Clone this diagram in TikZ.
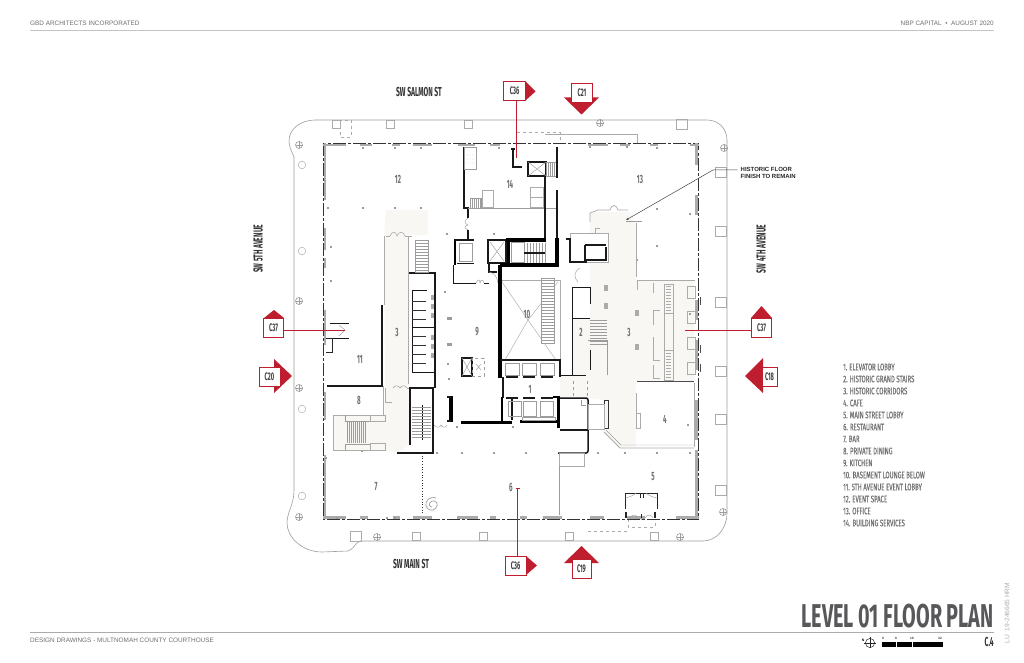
\documentclass[tikz,border=0pt]{standalone}
\usepackage{fontspec}
\usepackage{xcolor}
\usetikzlibrary{arrows.meta,positioning}
\setmainfont{Liberation Sans}
\newfontfamily\narrowfont[FakeStretch=0.52]{Fira Sans}
\newfontfamily\titlefont[FakeStretch=0.6]{Fira Sans}
\newfontfamily\legendfont[FakeStretch=0.63,FakeBold=0.25]{Fira Sans}
\definecolor{secred}{HTML}{BE1E2D}
\definecolor{floorbeige}{HTML}{F9F7F4}
\definecolor{txtgray}{HTML}{6E6E70}
\definecolor{titlegray}{HTML}{58585B}
\definecolor{wallgray}{HTML}{ABABAB}
\definecolor{linegray}{HTML}{9C9C9C}
\tikzset{
  hvywall/.style={black,line width=3.2pt},
  midwall/.style={black!90,line width=1.5pt},
  thinwall/.style={wallgray,line width=1pt},
  hairline/.style={linegray,line width=0.45pt},
  roomno/.style={font=\narrowfont\bfseries\fontsize{12}{12}\selectfont,text=txtgray,inner sep=0pt},
  streetname/.style={font=\narrowfont\bfseries\fontsize{13}{13}\selectfont,text=black!80,inner sep=0pt},
  secbox/.style={draw=secred,fill=white,line width=0.8pt,font=\narrowfont\bfseries\fontsize{11}{11}\selectfont,text=black!75,inner sep=0pt,minimum width=20.5pt,minimum height=19pt},
  secline/.style={secred,line width=0.7pt},
  plainnote/.style={font=\fontsize{6.4}{7}\selectfont,text=txtgray,inner sep=0pt},
  treemark/.style={draw=linegray,line width=0.6pt},
}
\begin{document}
\begin{tikzpicture}[x=1pt,y=-1pt]
  \useasboundingbox (0,0) rectangle (1024,663);

  % Header and footer
  \node[plainnote,anchor=west] (headleft) at (30,23) {GBD ARCHITECTS INCORPORATED};
  \node[plainnote,anchor=east] (headright) at (994,23) {NBP CAPITAL \ \textbullet\ \ AUGUST 2020};
  \draw[wallgray!70,line width=0.4pt] (30,30) -- (994,30);
  \draw[wallgray,line width=0.7pt] (30,632) -- (994,632);
  \node[plainnote,anchor=west] (footleft) at (30,640.5) {DESIGN DRAWINGS - MULTNOMAH COUNTY COURTHOUSE};
  \node[anchor=east,inner sep=0pt,text=titlegray] (plantitle) at (994,616.5)
    {\titlefont\bfseries\fontsize{33}{33}\selectfont LEVEL 01 FLOOR PLAN};
  \node[anchor=east,inner sep=0pt,text=black!80] (sheetno) at (994,641.5)
    {\narrowfont\bfseries\fontsize{13}{13}\selectfont C.4};
  \node[rotate=90,inner sep=0pt,text=wallgray] (filenote) at (1007,613)
    {\fontsize{6.6}{7}\selectfont LU \ 19-246665 HRM};

  % Floor finish
  \fill[floorbeige] (386,210) -- (428,210) -- (428,235) -- (409,235) -- (409,388) -- (410,388)
    -- (410,445) -- (397,453) -- (385,450) -- (333,450) -- (333,415) -- (385,415) -- (385,388) -- (384,235) -- cycle;
  \fill[floorbeige] (590,212) -- (630,212) -- (636,225) -- (636,280) -- (694,280) -- (694,381) -- (636,381)
    -- (636,447) -- (620,447) -- (604,432) -- (604,400) -- (588,398) -- (560,398) -- (560,376) -- (572,376)
    -- (572,318) -- (590,318) -- (590,262) -- (608,262) -- (608,233) -- (590,233) -- cycle;

  % Street curb
  \draw[linegray,line width=0.6pt] (294,157) .. controls (291,150) and (289,146) .. (289,141)
    .. controls (289,128) and (302,120) .. (315,120) -- (707,120)
    .. controls (719,120) and (727,129) .. (727,140) -- (727,513)
    .. controls (727,529) and (716,541) .. (703,541) -- (360,541)
    .. controls (355,543) and (353,550) .. (348,551) -- (322,552)
    .. controls (302,552) and (287,537) .. (287,523)
    .. controls (287,512) and (294,505) .. (294,490) -- cycle;

  % Street planters
  \foreach \px/\py in {336/124,390/124,468/124,569/536,654/536,416/536,483/536}
    \draw[wallgray,line width=0.45pt] (\px-4,\py-4) rectangle (\px+4,\py+4);
  \foreach \px/\py in {682/124,721/172,721/231,721/302,721/371,721/419,721/490,356/536}
    \draw[wallgray,line width=0.45pt] (\px-5.5,\py-5) rectangle (\px+5.5,\py+5);
  \draw[wallgray,line width=0.45pt,dashed] (340,120) rectangle (351,137);
  \draw[wallgray,line width=0.45pt,dashed] (517,132) -- (560,132) -- (560,143);
  \draw[wallgray,line width=0.45pt] (545,134) -- (637,134) -- (637,143);
  \draw[wallgray,line width=0.45pt,dashed] (588,531) -- (627,531);
  \draw[wallgray,line width=0.45pt,dashed] (628,519) rectangle (655,527);

  % Street lights and trees
  \foreach \tx/\ty in {299/145,299/301,299/388,299/517,377/537,680/537,723/512,724/148,600/123}{
    \draw[treemark] (\tx,\ty) circle (3.5pt);
    \draw[treemark,line width=0.4pt] (\tx-3.5,\ty) -- (\tx+3.5,\ty) (\tx,\ty-3.5) -- (\tx,\ty+3.5);
  }
  \foreach \tx/\ty in {302/165,302/251,302/409,302/496}
    \draw[wallgray,line width=0.45pt] (\tx,\ty) circle (3.8pt);

  % Outer wall
  \draw[black!80,line width=0.9pt,dash pattern=on 13pt off 2pt on 3pt off 2pt] (323,143) rectangle (698.5,519);
  \foreach \ax/\bx in {323/346,360/372,392/400,413/432,458/475,490/500,588/608,620/630,650/658,690/699}
    \draw[wallgray,line width=2.4pt] (\ax,145) -- (\bx,145);
  \foreach \ax/\bx in {323/346,360/368,393/400,413/432,457/478,490/496,520/527,543/562,590/604,627/645,676/699}
    \draw[wallgray,line width=2.4pt] (\ax,517.5) -- (\bx,517.5);
  \foreach \ay/\by in {143/200,228/250,258/268,310/345,392/420,455/519}
    \draw[wallgray,line width=2.6pt] (325,\ay) -- (325,\by);
  \foreach \ay/\by in {143/165,195/215,300/320,340/370,400/440,450/519}
    \draw[wallgray,line width=2.6pt] (696.5,\ay) -- (696.5,\by);

  % Columns
  \foreach \cx/\cy in {363/148,395/148,421/148,363/208,395/208,421/208,328/208,331/247,331/281,499/148,
      447/234,494/234,445/292,448/364,449/379,457/427,494/453,513/427,526/453,
      598/453,625/453,657/453,690/453,690/214,657/209,627/147,657/148,590/147,690/314,657/246,
      437/453,462/453,326/458,362/451,337/518,387/518,395/518,688/425,637/260}
    \fill[linegray] (\cx-1.3,\cy-1.3) rectangle (\cx+1.3,\cy+1.3);
  \foreach \kx/\ky in {449/318,449/344}
    \fill[linegray] (\kx-2.5,\ky-1.5) rectangle (\kx+2.5,\ky+1.5);
  \foreach \fx/\fy in {606/288,606/306,637/313,637/347}
    \fill[wallgray] (\fx-2,\fy-3) rectangle (\fx+2,\fy+3);

  % Left corridor
  \draw[thinwall] (386,236) -- (390,236) (405,236) -- (412,236);
  \draw[hairline] (390,236) .. controls (392,231) and (396,231) .. (397,236) .. controls (399,231) and (403,231) .. (405,236);
  \draw[thinwall] (384,236) -- (384,305);
  \draw[thinwall] (408,236) -- (408,384);
  \draw[thinwall] (383,386) -- (383,415) -- (333,415);
  \draw[midwall] (382,305) -- (382,386) -- (327,386);

  % Left entry
  \draw[midwall,line width=1pt] (330,323) -- (349,323) (330,338) -- (349,338);
  \draw[black!85,line width=0.8pt] (326,338) -- (332,338) -- (332,352) -- (326,352);
  \draw[hairline] (339,325) -- (345,330) -- (339,336);

  % Private dining stair
  \draw[thinwall] (333,450) -- (385,450);
  \draw[thinwall] (333,415) -- (333,450);
  \draw[thinwall] (370,415) rectangle (385,421);
  \draw[thinwall] (370,443) rectangle (385,450);
  \draw[hairline] (345,415) -- (345,421) -- (370,421) (345,450) -- (345,444) -- (370,444);
  \foreach \sx in {347,349,...,365}
    \draw[hairline] (\sx,421) -- (\sx,443);
  \draw[thinwall] (385,388) -- (385,402) -- (392,402);
  \draw[hairline] (393,388) .. controls (395,385) and (398,385) .. (400,388) .. controls (402,385) and (405,385) .. (407,388);
  \draw[thinwall] (407,388) -- (410,388);

  % Lower left stair
  \draw[midwall] (397,453) -- (433,453) -- (433,388) -- (410,388) -- (410,445);
  \draw[midwall,line width=1pt] (422,405) -- (422,440);
  \foreach \sy in {407,410,...,437}
    \draw[hairline] (412,\sy) -- (431,\sy);
  \draw[black!80,dotted,line width=0.7pt] (422,453) -- (422,515);
  \draw[hairline,line width=0.7pt] (436,498) .. controls (429,496) and (425,501) .. (426,506)
    .. controls (427,510) and (433,512) .. (436,508) .. controls (439,504) and (436,500) .. (432,501)
    .. controls (428,503) and (429,507) .. (432,507);

  % Restrooms
  \draw[midwall] (409,273) -- (435,273) -- (435,388);
  \draw[midwall,line width=1pt] (412,291) -- (412,372) -- (435,372);
  \draw[midwall,line width=1pt] (412,290) -- (427,290);
  \draw[midwall,line width=1pt] (412,327) -- (435,327);
  \foreach \ry in {301,310,319,336,345,354,363}
    \draw[black!80,line width=0.6pt] (412,\ry) -- (426,\ry);
  \foreach \ry in {295,304,313,335,344,353}
    \fill[wallgray] (431,\ry) rectangle (434,\ry+5);
  \draw[hairline] (415,240) rectangle (428,272);
  \foreach \sy in {243,246,...,270}
    \draw[hairline] (415,\sy) -- (428,\sy);

  % Core north
  \draw[midwall] (464,147) -- (464,208) -- (468,208) -- (468,218);
  \draw[midwall] (468,230) -- (468,240);
  \draw[hairline,line width=0.8pt] (464,147) rectangle (476,169);
  \foreach \hx in {467,470,473}
    \foreach \hy in {155,159,163}
      \fill[linegray] (\hx,\hy) circle (0.4pt);
  \draw[hairline,line width=0.7pt] (468,208) -- (556,208);
  \draw[hairline] (470,198) rectangle (481,208);
  \foreach \sx in {472,474,...,480}
    \draw[hairline] (\sx,198) -- (\sx,208);
  \draw[wallgray,line width=0.45pt] (482,190) rectangle (493,207);
  \draw[wallgray,line width=0.45pt] (530,187) rectangle (543,207);
  \draw[wallgray,line width=0.45pt] (530,197) -- (543,197);
  \draw[hairline] (468,218) .. controls (464,221) and (464,223) .. (468,225) .. controls (464,226) and (464,228) .. (468,230);
  \draw[midwall] (513,148) -- (513,167) -- (522,167);
  \draw[midwall] (511,149) -- (515,149);
  \draw[midwall,line width=1.3pt] (528,162) rectangle (546,176);
  \draw[hairline] (528,162) -- (546,176) (528,176) -- (546,162);
  \draw[hairline] (546,162) rectangle (556,176);
  \foreach \sx in {548,550,552,554}
    \draw[hairline] (\sx,162) -- (\sx,176);
  \draw[midwall] (557,147) -- (557,178);
  \draw[midwall] (557,190) -- (557,238);
  \draw[midwall] (545,176) -- (545,240);

  % Core shaft
  \draw[hvywall,line width=2.6pt] (455,239) -- (455,265);
  \draw[midwall] (455,240) -- (474,240);
  \draw[hairline,line width=0.8pt] (459,243) rectangle (472,261);
  \draw[midwall,line width=1pt] (457,263) -- (474,263);
  \draw[midwall,line width=1pt] (453,265) -- (453,283) -- (476,283) (484,283) -- (489,283);
  \draw[hairline] (476,283) .. controls (478,279) and (480,279) .. (480,283) .. controls (481,279) and (483,279) .. (484,283);
  \draw[midwall] (488,240) rectangle (506,263);
  \draw[hairline] (490,242) -- (504,261) (490,261) -- (504,242);
  \draw[hvywall] (508.5,240) -- (508.5,263);
  \draw[hvywall,line width=1.8pt] (506,264) -- (524,264);
  \draw[hvywall] (506,240) -- (546,240);
  \draw[hairline] (511,242) rectangle (524,262);
  \foreach \sx in {527,530,...,545}
    \draw[hairline] (\sx,243) -- (\sx,263);
  \draw[midwall,line width=1.6pt] (524,253) -- (545,253);
  \draw[hvywall] (557,238) -- (557,266);
  \draw[hvywall] (500,265) -- (559,265);
  \draw[midwall,line width=1.2pt] (489,263) -- (489,272) -- (497,272);
  \draw[hairline] (489,272) .. controls (494,273) and (497,276) .. (498,283);

  % Central thick walls
  \draw[hvywall,line width=3.6pt] (500,265) -- (500,378);
  \draw[hvywall,line width=3pt] (461,422) -- (512,422);
  \draw[hvywall] (451,396) -- (451,422);
  \draw[midwall] (447,397) -- (451,397) (447,421) -- (451,421);
  \draw[hairline] (434,425) .. controls (436,428) and (440,428) .. (441,425) .. controls (443,428) and (446,428) .. (447,425);

  % Kitchen hoist
  \draw[midwall,line width=1.2pt] (462,358) rectangle (472,376);
  \draw[hairline] (462,358) -- (472,376) (462,376) -- (472,358);
  \draw[hairline,dashed] (472,358) rectangle (484,376);
  \draw[hairline] (476,364) -- (481,370) (476,370) -- (481,364);

  % Basement opening
  \draw[wallgray,line width=0.45pt] (502,280) -- (560,280) -- (560,361);
  \draw[wallgray,line width=0.45pt] (502,282) -- (528,320) -- (505,360);
  \draw[wallgray,line width=0.45pt] (558,282) -- (528,320) -- (556,360);
  \draw[hairline,fill=white] (541,278) rectangle (554,343);
  \foreach \sy in {280,283,...,340}
    \draw[hairline] (541,\sy) -- (554,\sy);

  % Elevators
  \draw[midwall,line width=1.3pt] (500,360) -- (560,360) -- (560,377);
  \foreach \ex in {505,522,540}{
    \draw[hairline,line width=0.8pt] (\ex,363) rectangle (\ex+14,375);
    \draw[midwall,line width=1.2pt] (\ex+1,377) -- (\ex+13,377);
    \draw[midwall,line width=1.2pt] (\ex+1,398) -- (\ex+13,398);
  }
  \draw[midwall] (503,377) -- (503,398);
  \draw[hvywall,line width=2.6pt] (502,397) -- (502,424);
  \draw[midwall] (512,398) -- (512,420);
  \foreach \ex in {508,523,540}
    \draw[hairline,line width=0.8pt] (\ex,401) rectangle (\ex+13,416);
  \draw[hvywall,line width=2.2pt] (520,421.5) -- (560,421.5);
  \draw[hairline] (522,417) rectangle (555,420);
  \draw[hvywall,line width=3pt] (558,397) -- (558,428);
  \draw[black,line width=1.2pt] (553,397) -- (560,397);
  \draw[midwall,line width=1.5pt,rounded corners=2pt] (560,398) -- (588,398) -- (588,453) -- (558,453);
  \draw[midwall] (560,430) -- (588,430);
  \draw[hairline] (581,400) -- (581,405) -- (586,405);
  \draw[midwall,line width=0.9pt] (560,375) -- (586,375);
  \draw[hairline,dashed,line width=1pt] (573,381) -- (573,396) (587,381) -- (587,396);
  \draw[wallgray,line width=0.45pt] (559,453) rectangle (584,466);
  \draw[hairline,line width=0.7pt] (559,466) -- (559,515);

  % Cafe room and lobby
  \draw[thinwall] (570,233) rectangle (608,262);
  \draw[midwall,line width=1.1pt] (566,239) -- (570,239) -- (570,262) -- (587,262);
  \draw[midwall,line width=1.1pt] (585,245) -- (585,260) -- (606,260) -- (606,247);
  \draw[midwall,line width=1.1pt] (585,245) -- (606,245);
  \draw[wallgray,line width=0.9pt] (595,233) -- (595,228) -- (600,228);
  \draw[thinwall,line width=0.7pt] (590,222) -- (590,213) -- (598,210) -- (610,210);
  \draw[thinwall,line width=0.7pt] (610,210) .. controls (612,204) and (616,204) .. (618,210) -- (628,210);
  \draw[thinwall] (636,223) -- (636,277);
  \draw[hairline] (626,221) -- (642,221);
  \draw[midwall,line width=1pt] (572,287) -- (590,287) -- (590,304);
  \draw[midwall,line width=1pt] (572,287) -- (572,375);
  \draw[midwall,line width=1pt] (572,318) -- (590,318);
  \draw[midwall,line width=1pt] (590,350) -- (590,370);
  \foreach \sy in {320,323,...,344}
    \draw[hairline] (590,\sy) -- (607,\sy);
  \draw[hairline] (588,340) -- (607,340) -- (607,375);
  \draw[hairline] (580,268) .. controls (573,272) and (574,278) .. (578,282);

  % Cafe
  \draw[thinwall] (637,280) -- (695,280);
  \draw[thinwall] (637,280) -- (637,290);
  \draw[black!70,line width=0.9pt] (637,381) -- (694,381);
  \draw[thinwall] (636,393) -- (636,428);
  \draw[thinwall] (636,413) rectangle (640,428);
  \draw[thinwall,line width=0.8pt] (694,383) -- (694,447);
  \draw[thinwall,line width=0.8pt] (604,432) -- (620,448) -- (694,448);
  \draw[hairline] (606,430) -- (621,445) -- (694,445);
  \draw[black!80,line width=1pt] (604,400) rectangle (608,428);
  \draw[wallgray,line width=0.45pt] (588,404) rectangle (604,429);

  % Banquettes
  \foreach \by/\bh in {283/10,310/15,337/23,365/13}
    \draw[thinwall,line width=0.8pt] (653,\by) -- (653,\by+\bh);
  \draw[thinwall,line width=0.7pt] (653,310) -- (660,310) (653,360) -- (660,360) (653,378) -- (660,378);
  \draw[wallgray,line width=0.45pt] (664,284) rectangle (673,380);
  \draw[wallgray,line width=0.45pt] (664,313) -- (673,313) (664,350) -- (673,350);
  \foreach \sy in {286,289,...,310}
    \draw[wallgray,line width=0.45pt] (666,\sy) -- (671,\sy);
  \foreach \sy in {353,356,...,377}
    \draw[wallgray,line width=0.45pt] (666,\sy) -- (671,\sy);
  \foreach \by in {286,311,337,362}
    \draw[thinwall,line width=0.7pt] (687,\by) rectangle (695,\by+12);
  \foreach \by in {297,345,364}
    \draw[black!70,line width=1pt] (700,\by) -- (700,\by+8);

  % Main street doors
  \draw[black!85,line width=0.9pt] (625,509) -- (625,493) -- (657,493) -- (657,509);
  \draw[hairline] (625,498) .. controls (630,497) and (634,495) .. (636,493)
    (657,498) .. controls (652,497) and (648,495) .. (646,493);
  \draw[black!85,line width=1pt] (640,493) -- (640,498) (643,493) -- (643,498);
  \draw[black!85,line width=1.4pt] (626,512) -- (626,518) (655,512) -- (655,518);
  \draw[black!85,line width=0.9pt] (641,514) -- (641,518);
  \draw[hairline] (630,518) .. controls (632,514) and (636,514) .. (638,518)
    (645,518) .. controls (647,514) and (651,514) .. (653,518);

  % Room numbers
  \foreach \rn/\rx/\ry/\rt in {ra/398/179/12,rb/640/179/13,rc/510/184/14,rd/527/314/10,re/477/332/9,rf/397/332/3,rg/581/332/2,rh/629/332/3,ri/360/359/11,rj/530/389/1,rk/359/400/8,rl/376/487/7,rm/511/487/6,rn/653/477/5,ro/665/419/4}
    \node[roomno] (\rn) at (\rx,\ry) {\rt};

  % Streets
  \node[streetname] (salmon) at (419,92) {SW SALMON ST};
  \node[streetname] (mainst) at (411,564) {SW MAIN ST};
  \node[streetname,rotate=90] (fifth) at (258,249) {SW 5TH AVENUE};
  \node[streetname,rotate=90] (fourth) at (761,249) {SW 4TH AVENUE};

  % Historic floor note
  \node[anchor=west,align=left,inner sep=0pt,font=\bfseries\fontsize{6}{7}\selectfont,text=black!85] (floornote) at (740.5,172.5) {HISTORIC FLOOR\\FINISH TO REMAIN};
  \coordinate (noteelbow) at (713,170);
  \coordinate (notetip) at (626,220);
  \draw[black!75,line width=0.5pt,shorten <=3pt,-{Stealth[length=3pt,width=2pt]}] (floornote.west |- noteelbow) -- (noteelbow) -- (notetip);

  % Section markers
  \fill[secred] (526,82) -- (535.5,91.5) -- (526,100) -- cycle;
  \node[secbox,minimum width=22pt] (cnorth) at (514.5,91) {C36};
  \coordinate (cnorthend) at (516,158);
  \draw[secline] (cnorth.south -| cnorthend) -- (cnorthend);

  \fill[secred] (564,97.5) -- (599,97.5) -- (581.5,114.5) -- cycle;
  \node[secbox] (ctop) at (582,93) {C21};

  \fill[secred] (264,318) -- (274,310) -- (284,318) -- cycle;
  \node[secbox] (cwest) at (273.5,328) {C37};
  \coordinate (cwestend) at (345,330);
  \draw[secline] (cwest.east |- cwestend) -- (cwestend);

  \fill[secred] (274,359) -- (292,376) -- (274,393) -- cycle;
  \node[secbox,minimum width=21pt] (cleft) at (269.5,376.5) {C20};

  \fill[secred] (751,318) -- (761.5,306) -- (772,318) -- cycle;
  \node[secbox] (ceast) at (761.5,327.5) {C37};
  \coordinate (ceastend) at (685,330);
  \draw[secline] (ceast.west |- ceastend) -- (ceastend);

  \fill[secred] (763,358) -- (745,376) -- (763,393) -- cycle;
  \node[secbox,minimum width=15pt] (cright) at (769.5,376.5) {C18};

  \fill[secred] (526,556) -- (537,565.5) -- (526,575) -- cycle;
  \node[secbox,minimum width=21pt] (csouth) at (515.5,565.5) {C36};
  \coordinate (csouthend) at (517.5,488);
  \draw[secline] (csouth.north -| csouthend) -- (csouthend);
  \draw[secline] (515.5,488) -- (519.5,488);

  \fill[secred] (564,563) -- (581.5,546) -- (599,563) -- cycle;
  \node[secbox,minimum width=19pt] (cbottom) at (581.5,569) {C19};

  % Legend
  \foreach \ln/\ly/\lt in {la/367/1. ELEVATOR LOBBY,lb/379/2. HISTORIC GRAND STAIRS,lc/391/3. HISTORIC CORRIDORS,ld/403/4. CAFE,le/415/5. MAIN STREET LOBBY,lf/427/6. RESTAURANT,lg/439/7. BAR,lh/451/8. PRIVATE DINING,li/463/9. KITCHEN,lj/475/10. BASEMENT LOUNGE BELOW,lk/487/11. 5TH AVENUE EVENT LOBBY,ll/499/12. EVENT SPACE,lm/511/13. OFFICE,lo/523/14. BUILDING SERVICES}
    \node[anchor=west,inner sep=0pt,text=txtgray,font=\legendfont\fontsize{9.5}{10}\selectfont] (\ln) at (843,\ly) {\lt};

  % North arrow and scale bar
  \draw[black!85,line width=0.5pt] (870,643) circle (4.6pt);
  \draw[black!85,line width=0.5pt] (864,643) -- (876,643) (870,637) -- (870,648);
  \node[inner sep=0pt,font=\bfseries\fontsize{3.5}{4}\selectfont] (northmark) at (863,640) {N};
  \fill[black] (882,642) rectangle (943,646.5);
  \draw[white,line width=0.4pt] (896,642) -- (896,646.5) (912,642) -- (912,646.5);
  \foreach \sn/\sx/\st in {sa/883/0,sb/896/8,sc/912/16,sd/940/32}
    \node[inner sep=0pt,font=\bfseries\fontsize{3.2}{4}\selectfont,text=black!80] (\sn) at (\sx,638.5) {\st};
\end{tikzpicture}
\end{document}
